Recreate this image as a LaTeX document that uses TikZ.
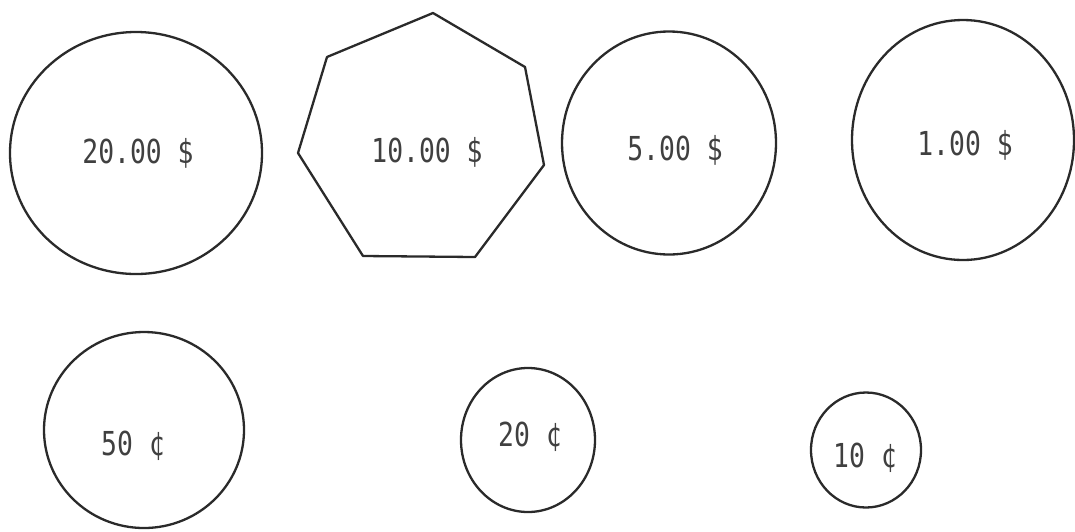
\documentclass[tikz,border=0pt]{standalone}
\usepackage{fontspec}
\newfontfamily\typew{DejaVu Sans Mono}
\usetikzlibrary{shapes.geometric}
\definecolor{ink}{HTML}{2A2A2A}
\definecolor{txt}{HTML}{404040}
\tikzset{
  coin/.style={draw=ink, line width=2.3pt, ellipse, inner sep=0pt},
  heptline/.style={draw=ink, line width=2.3pt, line join=round},
  value/.style={text=txt, inner sep=0pt, font=\typew\fontsize{33}{34}\selectfont}
}
\newcommand{\valtext}[1]{\scalebox{0.8}[1]{#1}}
\begin{document}
\begin{tikzpicture}[x=1pt,y=-1pt]
\useasboundingbox[fill=white] (0,0) rectangle (1075,531);
% top row
\node[coin, minimum width=252pt, minimum height=242pt] (c20) at (136,153) {};
\node[value] (t20) at (138,153) {\valtext{20.00 \$}};
\coordinate (h1) at (433,13);
\coordinate (h2) at (525,67);
\coordinate (h3) at (544,165);
\coordinate (h4) at (475,257);
\coordinate (h5) at (363,256);
\coordinate (h6) at (298,153);
\coordinate (h7) at (327,57);
\draw[heptline] (h1) -- (h2) -- (h3) -- (h4) -- (h5) -- (h6) -- (h7) -- cycle;
\node[value] (t10) at (427,152) {\valtext{10.00 \$}};
\node[coin, minimum width=214pt, minimum height=223pt] (c5) at (669,143) {};
\node[value] (t5) at (675,150) {\valtext{5.00 \$}};
\node[coin, minimum width=222pt, minimum height=240pt] (c1) at (963,140) {};
\node[value] (t1) at (965,145) {\valtext{1.00 \$}};
% bottom row
\node[coin, minimum width=200pt, minimum height=196pt] (c50) at (144,430) {};
\node[value] (t50) at (133,446) {\valtext{50 ¢}};
\node[coin, minimum width=134pt, minimum height=144pt] (c20c) at (528,440) {};
\node[value] (t20c) at (530,437) {\valtext{20 ¢}};
\node[coin, minimum width=110pt, minimum height=115pt] (c10) at (866,450) {};
\node[value] (t10c) at (865,458) {\valtext{10 ¢}};
\end{tikzpicture}
\end{document}
